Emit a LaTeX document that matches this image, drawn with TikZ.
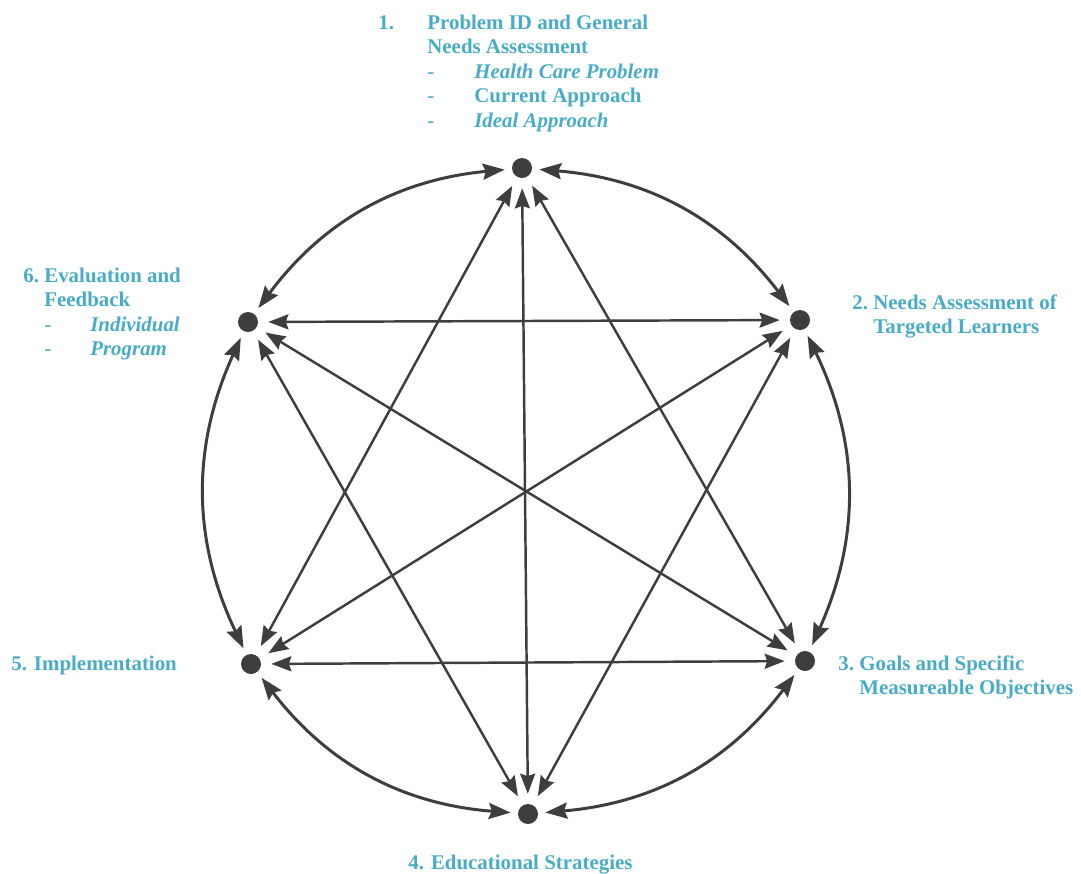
\documentclass[tikz,border=0pt]{standalone}
\usepackage{fontspec}
\setmainfont{Liberation Serif}
\usepackage{xcolor}
\usetikzlibrary{arrows.meta, positioning}
\definecolor{stTeal}{RGB}{ 72,172,198}
\definecolor{stGrey}{RGB}{ 62, 62, 62}

\begin{document}
\begin{tikzpicture}[
  x=0.02cm, y=0.02cm,
  dot/.style={
    circle, fill=stGrey, minimum size=0.4cm, inner sep=0pt
  },
  ring/.style={
    draw=stGrey, line width=1.7pt,
    {Stealth[length=0.44cm, width=0.32cm, inset=0.06cm]}-{Stealth[length=0.44cm, width=0.32cm, inset=0.06cm]},
    shorten <=0.14cm, shorten >=0.14cm
  },
  spoke/.style={
    draw=stGrey, line width=1.4pt,
    {Stealth[length=0.4cm, width=0.3cm, inset=0.05cm]}-{Stealth[length=0.4cm, width=0.3cm, inset=0.05cm]},
    shorten <=0.2cm, shorten >=0.2cm
  },
  lbl/.style={
    anchor=base west, inner sep=0pt, text=stTeal,
    font=\bfseries\fontsize{11.9}{14}\selectfont
  }
]
\useasboundingbox (0,0) rectangle (1081,-873);

\node[dot] (n1) at (522,-168) {};
\node[dot] (n2) at (800,-320) {};
\node[dot] (n3) at (805,-661) {};
\node[dot] (n4) at (528,-814) {};
\node[dot] (n5) at (251,-664) {};
\node[dot] (n6) at (248,-322) {};

\draw[ring] (n1) to[bend left=24] (n2);
\draw[ring] (n2) to[bend left=25] (n3);
\draw[ring] (n3) to[bend left=24] (n4);
\draw[ring] (n4) to[bend left=24] (n5);
\draw[ring] (n5) to[bend left=25] (n6);
\draw[ring] (n6) to[bend left=24] (n1);

\draw[spoke] (n1) -- (n4);
\draw[spoke] (n6) -- (n2);
\draw[spoke] (n5) -- (n3);
\draw[spoke] (n1) -- (n3);
\draw[spoke] (n1) -- (n5);
\draw[spoke] (n2) -- (n4);
\draw[spoke] (n2) -- (n5);
\draw[spoke] (n6) -- (n4);
\draw[spoke] (n6) -- (n3);

\node[lbl] (t1) at (378,-29) {\begin{tabular}[t]{@{}p{0.98cm}@{}p{0.94cm}@{}l@{}}
  1. & \multicolumn{2}{@{}l@{}}{Problem ID and General}\\
     & \multicolumn{2}{@{}l@{}}{Needs Assessment}\\
     & \textmd{-} & \textit{Health Care Problem}\\
     & \textmd{-} & Current Approach\\
     & \textmd{-} & \textit{Ideal Approach}
\end{tabular}};
\node[lbl] (t2) at (852,-309) {\begin{tabular}[t]{@{}p{0.42cm}@{}l@{}}
  2. & Needs Assessment of\\
     & Targeted Learners
\end{tabular}};
\node[lbl] (t3) at (838,-670) {\begin{tabular}[t]{@{}p{0.42cm}@{}l@{}}
  3. & Goals and Specific\\
     & Measureable Objectives
\end{tabular}};
\node[lbl] (t4) at (408,-869) {4. Educational Strategies};
\node[lbl] (t5) at (11,-670) {5. Implementation};
\node[lbl] (t6) at (23,-282) {\begin{tabular}[t]{@{}p{0.42cm}@{}p{0.92cm}@{}l@{}}
  6. & \multicolumn{2}{@{}l@{}}{Evaluation and}\\
     & \multicolumn{2}{@{}l@{}}{Feedback}\\
     & \textmd{-} & \textit{Individual}\\
     & \textmd{-} & \textit{Program}
\end{tabular}};
\end{tikzpicture}
\end{document}
